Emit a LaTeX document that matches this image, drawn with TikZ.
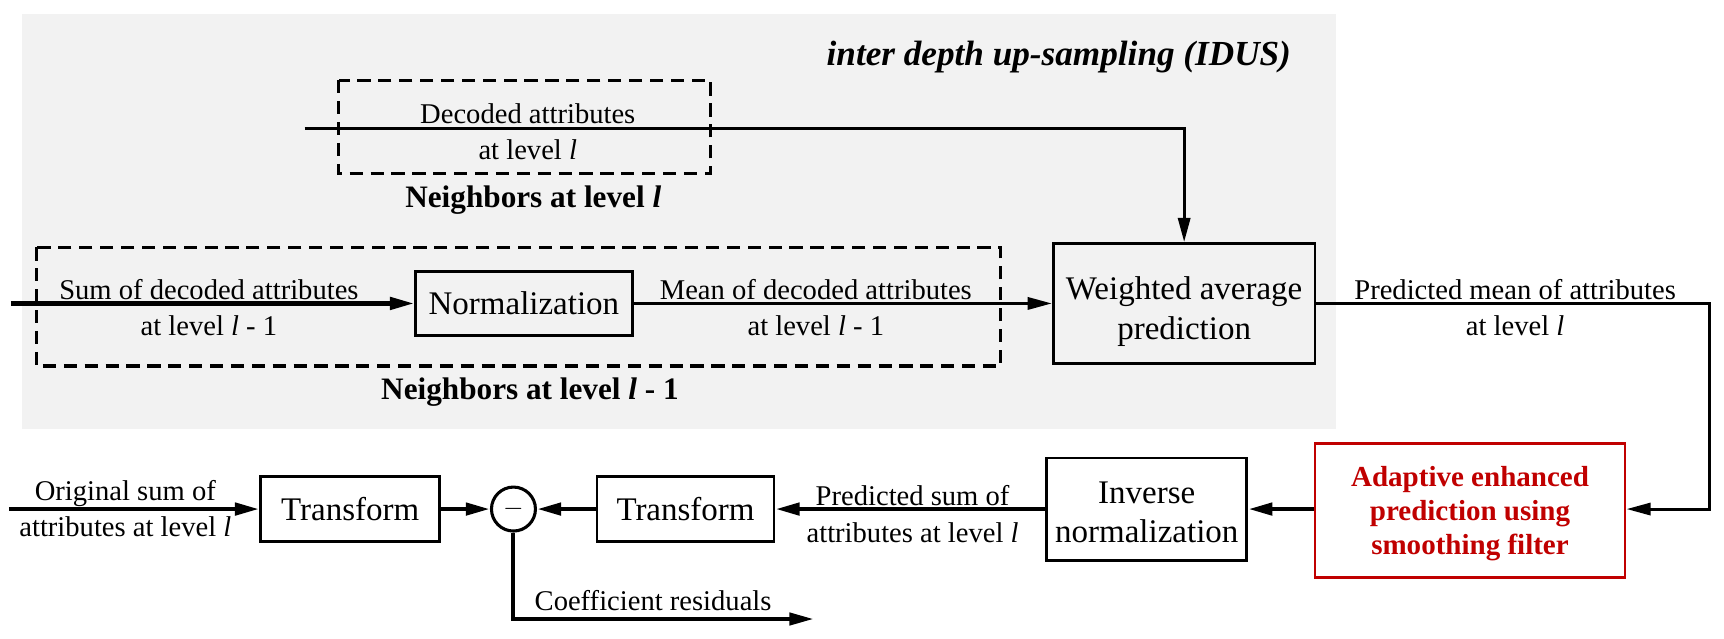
\documentclass[tikz,border=0pt]{standalone}
\usepackage{fontspec}
\setmainfont{Liberation Serif}
\usetikzlibrary{arrows.meta,positioning,calc}
\definecolor{idusgray}{RGB}{242,242,242}
\definecolor{aepred}{RGB}{192,0,0}

\tikzset{
  blk/.style={draw, line width=1.3pt, align=center, inner sep=0pt, font=\fontsize{15}{18}\selectfont},
  btxt/.style={align=center, inner sep=0pt, font=\fontsize{15}{18}\selectfont},
  lbl/.style={align=center, inner sep=0pt, font=\fontsize{13}{16.5}\selectfont},
  grp/.style={inner sep=0pt, font=\fontsize{14.2}{17}\selectfont\bfseries},
  nbr/.style={draw, dash pattern=on 6pt off 3.5pt, line width=1.5pt},
  flow/.style={line width=1.4pt, -{Triangle[length=11pt,width=5.5pt]}},
  bigflow/.style={line width=2pt, -{Triangle[length=11pt,width=5.5pt]}}
}

\begin{document}
\begin{tikzpicture}[x=0.5pt,y=-0.5pt]
  \useasboundingbox (0,0) rectangle (1568,581);

  % IDUS area
  \fill[idusgray] (20,13) rectangle (1215,390);
  \node[font=\fontsize{16}{19}\selectfont\bfseries\itshape] (idus) at (963,52) {inter depth up-sampling (IDUS)};
  \draw[nbr] (308,73) rectangle (646,158);
  \draw[nbr] (33,225) rectangle (910,333);
  \node[grp] (nbrl) at (485,182) {Neighbors at level \textit{l}};
  \node[grp] (nbrlm) at (482,357) {Neighbors at level \textit{l} - 1};

  % blocks
  \node[blk, minimum width=98.5pt, minimum height=29pt] (norm) at (476.5,276) {Normalization};
  \node[blk, minimum width=119pt, minimum height=54.5pt] (wavg) at (1077,276) {};
  \node[btxt, yshift=-3.75pt] (wavgtxt) at (wavg) {Weighted average\\prediction};
  \node[blk, draw=aepred, minimum width=141pt, minimum height=61pt] (aep) at (1337,464) {};
  \node[btxt, text=aepred, font=\fontsize{13.2}{15.5}\selectfont\bfseries, yshift=-1.7pt] (aeptxt) at (aep) {Adaptive enhanced\\prediction using\\smoothing filter};
  \node[blk, minimum width=91pt, minimum height=46.5pt] (invn) at (1043,463) {};
  \node[btxt, yshift=-1.5pt] (invntxt) at (invn) {Inverse\\normalization};
  \node[blk, minimum width=80.5pt, minimum height=29.5pt] (trpred) at (623.5,463) {Transform};
  \node[blk, minimum width=81.5pt, minimum height=29.5pt] (trorig) at (318.5,463) {Transform};
  \node[circle, draw, line width=1.4pt, minimum size=20pt, inner sep=0pt, font=\fontsize{13}{13}\selectfont] (diff) at (467,463) {$-$};

  % free ends
  \coordinate (decin) at (277,117);
  \coordinate (sumin) at (10,276);
  \coordinate (turn) at (1555,276);
  \coordinate (origin) at (8,463);
  \coordinate (resbend) at (467,563);
  \coordinate (resout) at (740,563);

  % connectors
  \draw[flow] (decin) -| (wavg.north);
  \draw[bigflow] (sumin) -- (norm.west);
  \draw[flow] (norm.east) -- (wavg.west);
  \draw[flow] (wavg.east) -- (turn) |- (aep.east |- invn.east);
  \draw[bigflow] (aep.west |- invn.east) -- (invn.east);
  \draw[bigflow] (invn.west) -- (trpred.east);
  \draw[bigflow] (trpred.west) -- (diff.east);
  \draw[bigflow] (trorig.east) -- (diff.west);
  \draw[bigflow] (origin) -- (trorig.west);
  \draw[flow, line width=1.8pt] (diff.south) -- (resbend) -- (resout);

  % labels
  \node[lbl] (declbl) at (480,119.5) {Decoded attributes\\at level \textit{l}};
  \node[lbl] (sumlbl) at (190,280) {Sum of decoded attributes\\at level \textit{l} - 1};
  \node[lbl] (meanlbl) at (742,280) {Mean of decoded attributes\\at level \textit{l} - 1};
  \node[lbl] (predmlbl) at (1378,280) {Predicted mean of attributes\\at level \textit{l}};
  \node[lbl] (origlbl) at (114,462.5) {Original sum of\\attributes at level \textit{l}};
  \node[lbl] (predslbl) at (830,467.5) {Predicted sum of\\attributes at level \textit{l}};
  \node[lbl] (reslbl) at (594,546) {Coefficient residuals};
\end{tikzpicture}
\end{document}
